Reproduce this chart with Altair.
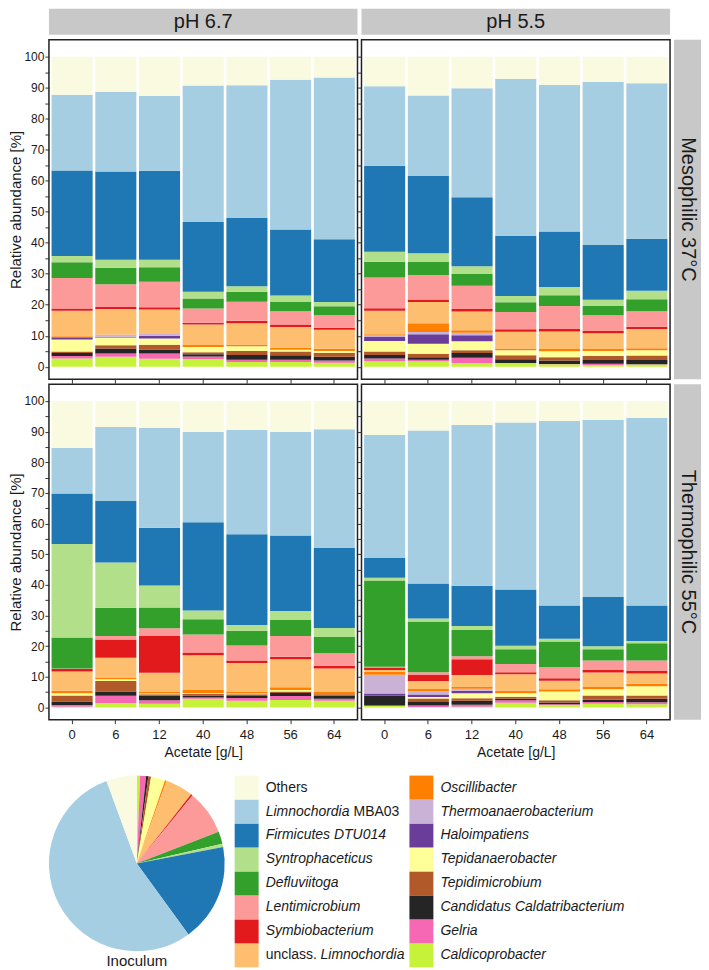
import altair as alt
import pandas as pd

FONT = "Liberation Sans, Arial, Helvetica, sans-serif"
TXT = "#1a1a1a"

# stacking order: bottom -> top
taxa = [
    "Caldicoprobacter", "Gelria", "Candidatus Caldatribacterium", "Tepidimicrobium",
    "Tepidanaerobacter", "Haloimpatiens", "Thermoanaerobacterium", "Oscillibacter",
    "unclass. Limnochordia", "Symbiobacterium", "Lentimicrobium", "Defluviitoga",
    "Syntrophaceticus", "Firmicutes DTU014", "Limnochordia MBA03", "Others",
]
colors = [
    "#c6f33a", "#f768b4", "#252525", "#b15928",
    "#ffff99", "#6a3d9a", "#cab2d6", "#ff7f00",
    "#fdbf6f", "#e31a1c", "#fb9a99", "#33a02c",
    "#b2df8a", "#1f78b4", "#a6cee3", "#fafae1",
]
acetate = ["0", "6", "12", "40", "48", "56", "64"]

# legend label parts: (first part, first italic?, second part)
label_a = ["Caldicoprobacter", "Gelria", "Candidatus Caldatribacterium", "Tepidimicrobium",
           "Tepidanaerobacter", "Haloimpatiens", "Thermoanaerobacterium", "Oscillibacter",
           "unclass.", "Symbiobacterium", "Lentimicrobium", "Defluviitoga",
           "Syntrophaceticus", "Firmicutes DTU014", "Limnochordia", "Others"]
label_a_italic = [True, True, True, True, True, True, True, True,
                  False, True, True, True, True, True, True, False]
label_b = ["", "", "", "", "", "", "", "", "Limnochordia", "", "", "", "", "", "MBA03", ""]

# Mesophilic 37°C, pH 6.7 (values per acetate level, %)
meso_67 = {
    "Caldicoprobacter": [2.7, 3.2, 2.6, 2.5, 1.5, 1.5, 1.3],
    "Gelria": [0.8, 1.1, 1.7, 0.8, 0.8, 0.8, 0.7],
    "Candidatus Caldatribacterium": [0.9, 1.6, 1.3, 0.7, 1.5, 1.4, 1.2],
    "Tepidimicrobium": [0.5, 1.0, 1.5, 0.7, 1.3, 1.2, 1.3],
    "Tepidanaerobacter": [3.9, 2.5, 2.0, 1.7, 1.5, 0.6, 0.6],
    "Haloimpatiens": [0.7, 0.3, 0.9, 0.0, 0.0, 0.0, 0.0],
    "Thermoanaerobacterium": [0.1, 0.6, 0.6, 0.0, 0.0, 0.0, 0.0],
    "Oscillibacter": [0.2, 0.1, 0.0, 0.6, 0.6, 0.6, 0.7],
    "unclass. Limnochordia": [8.3, 8.2, 7.9, 6.6, 6.8, 6.7, 6.1],
    "Symbiobacterium": [0.7, 0.7, 0.7, 0.6, 0.8, 0.8, 0.7],
    "Lentimicrobium": [9.8, 7.3, 8.2, 4.6, 6.2, 4.3, 4.0],
    "Defluviitoga": [5.1, 5.3, 4.7, 3.2, 3.2, 3.0, 2.9],
    "Syntrophaceticus": [2.0, 2.6, 2.4, 2.2, 1.8, 2.1, 1.4],
    "Firmicutes DTU014": [27.6, 28.5, 28.7, 22.5, 22.0, 21.3, 20.2],
    "Limnochordia MBA03": [24.4, 25.7, 24.1, 44.0, 42.8, 48.3, 52.2],
    "Others": [12.3, 11.3, 12.7, 9.3, 9.2, 7.4, 6.7],
}

# Mesophilic 37°C, pH 5.5
meso_55 = {
    "Caldicoprobacter": [1.8, 1.8, 1.2, 1.1, 0.8, 0.6, 0.7],
    "Gelria": [0.9, 0.5, 1.7, 0.1, 0.1, 0.4, 0.1],
    "Candidatus Caldatribacterium": [1.1, 0.8, 1.5, 1.2, 1.1, 1.2, 1.4],
    "Tepidimicrobium": [1.1, 1.1, 0.9, 1.3, 1.1, 1.3, 1.4],
    "Tepidanaerobacter": [3.4, 3.2, 2.9, 1.6, 1.9, 1.6, 1.7],
    "Haloimpatiens": [1.3, 3.1, 2.0, 0.0, 0.0, 0.0, 0.0],
    "Thermoanaerobacterium": [0.5, 0.7, 0.8, 0.0, 0.0, 0.0, 0.0],
    "Oscillibacter": [0.4, 2.8, 0.8, 0.6, 0.7, 0.8, 0.7],
    "unclass. Limnochordia": [7.6, 6.9, 6.0, 5.4, 5.7, 4.9, 6.2],
    "Symbiobacterium": [0.8, 0.8, 0.8, 0.8, 0.8, 0.7, 0.7],
    "Lentimicrobium": [9.9, 7.9, 7.5, 5.6, 7.4, 5.1, 5.0],
    "Defluviitoga": [5.1, 4.2, 3.8, 3.1, 3.5, 3.0, 3.9],
    "Syntrophaceticus": [3.2, 2.8, 2.5, 2.0, 2.6, 2.0, 2.7],
    "Firmicutes DTU014": [27.7, 24.9, 22.3, 19.4, 17.9, 17.7, 16.8],
    "Limnochordia MBA03": [25.7, 26.0, 35.1, 50.6, 47.3, 52.6, 50.1],
    "Others": [9.5, 12.5, 10.2, 7.2, 9.1, 8.1, 8.6],
}

# Thermophilic 55°C, pH 6.7
thermo_67 = {
    "Caldicoprobacter": [0.2, 1.4, 1.2, 2.8, 2.2, 2.4, 2.2],
    "Gelria": [0.6, 2.4, 1.1, 0.4, 0.9, 1.3, 0.6],
    "Candidatus Caldatribacterium": [1.1, 1.4, 1.6, 0.7, 0.6, 1.0, 1.1],
    "Tepidimicrobium": [2.0, 3.4, 0.4, 0.5, 0.6, 0.5, 0.4],
    "Tepidanaerobacter": [0.7, 0.6, 0.2, 0.2, 0.2, 0.5, 0.0],
    "Haloimpatiens": [0.0, 0.0, 0.0, 0.0, 0.0, 0.0, 0.0],
    "Thermoanaerobacterium": [0.0, 0.0, 0.0, 0.0, 0.0, 0.0, 0.0],
    "Oscillibacter": [0.8, 0.6, 0.7, 1.1, 0.7, 0.9, 0.9],
    "unclass. Limnochordia": [6.3, 6.4, 6.1, 11.3, 9.3, 9.1, 7.5],
    "Symbiobacterium": [0.8, 6.0, 12.0, 0.9, 0.8, 0.8, 0.9],
    "Lentimicrobium": [0.2, 1.1, 2.5, 5.9, 4.9, 6.8, 4.1],
    "Defluviitoga": [10.1, 9.2, 6.8, 5.0, 4.8, 5.2, 5.3],
    "Syntrophaceticus": [30.5, 14.8, 7.2, 2.8, 1.9, 3.0, 2.9],
    "Firmicutes DTU014": [16.5, 20.1, 18.8, 28.8, 29.6, 24.6, 26.1],
    "Limnochordia MBA03": [14.9, 24.1, 32.7, 29.5, 34.0, 33.8, 38.8],
    "Others": [15.3, 8.5, 8.7, 10.1, 9.5, 10.1, 9.2],
}

# Thermophilic 55°C, pH 5.5
thermo_55 = {
    "Caldicoprobacter": [0.5, 0.1, 0.2, 1.5, 0.8, 1.2, 1.0],
    "Gelria": [0.1, 0.5, 0.7, 0.8, 0.2, 0.6, 0.7],
    "Candidatus Caldatribacterium": [3.3, 1.2, 1.3, 0.5, 0.6, 0.7, 1.1],
    "Tepidimicrobium": [0.0, 1.1, 0.8, 0.7, 0.7, 1.4, 1.1],
    "Tepidanaerobacter": [0.0, 0.5, 1.6, 1.1, 2.9, 2.0, 3.0],
    "Haloimpatiens": [0.6, 0.8, 0.8, 0.0, 0.0, 0.0, 0.0],
    "Thermoanaerobacterium": [6.2, 1.1, 0.7, 0.0, 0.0, 0.0, 0.0],
    "Oscillibacter": [0.9, 0.7, 0.7, 0.8, 0.7, 0.8, 0.8],
    "unclass. Limnochordia": [0.6, 2.6, 3.8, 5.4, 2.8, 4.7, 3.4],
    "Symbiobacterium": [0.8, 2.0, 5.1, 0.7, 0.8, 0.8, 0.8],
    "Lentimicrobium": [0.3, 0.9, 1.0, 2.7, 3.6, 3.1, 3.4],
    "Defluviitoga": [28.1, 16.5, 8.6, 4.8, 8.4, 3.7, 5.6],
    "Syntrophaceticus": [0.9, 1.0, 1.3, 1.1, 0.9, 1.0, 0.8],
    "Firmicutes DTU014": [6.5, 11.4, 13.1, 18.4, 10.9, 16.0, 11.6],
    "Limnochordia MBA03": [40.1, 50.0, 52.5, 54.5, 60.2, 57.8, 61.2],
    "Others": [11.1, 9.6, 7.8, 7.0, 6.5, 6.2, 5.5],
}

# Inoculum (pie), same order as taxa
inoculum = [0.6, 1.1, 0.4, 0.5, 2.6, 0.0, 0.0, 0.3, 5.1, 0.3, 8.2, 2.3, 0.6, 18.0, 54.4, 5.6]

cscale = alt.Scale(domain=taxa, range=colors)
PW = 309


def panel_df(d):
    rows = []
    for i, t in enumerate(taxa):
        for j, a in enumerate(acetate):
            rows.append({"taxon": t, "order": i, "acetate": a, "value": d[t][j]})
    return pd.DataFrame(rows)


def panel(d, left, bottom, h):
    yax = alt.Axis(
        values=list(range(0, 101, 5)),
        labelExpr="datum.value % 10 == 0 ? datum.label : ''",
        labels=left,
        title="Relative abundance [%]" if left else None,
        tickSize=4, domain=False, grid=False, titlePadding=0, labelPadding=1,
        labelFontSize=12, titleFontSize=15,
    )
    xax = alt.Axis(
        labels=bottom, title="Acetate [g/L]" if bottom else None,
        labelAngle=0, tickSize=4, domain=False, grid=False, titlePadding=4,
        labelPadding=5,
    )
    return alt.Chart(panel_df(d)).mark_bar(strokeWidth=0).encode(
        x=alt.X("acetate:N", sort=acetate, axis=xax,
                scale=alt.Scale(paddingInner=0.06, paddingOuter=0.06)),
        y=alt.Y("value:Q", stack="zero", axis=yax,
                scale=alt.Scale(domain=[-4, 105.5], nice=False, zero=False)),
        color=alt.Color("taxon:N", scale=cscale, legend=None),
        order=alt.Order("order:Q", sort="ascending"),
    ).properties(
        width=PW, height=h,
        view=alt.ViewBackground(stroke="#222", strokeWidth=1.5, fill="white"),
    )


def strip(label, w, h, angle=0):
    return alt.Chart(alt.Data(values=[{"label": label}])).mark_text(
        font=FONT, fontSize=20, color=TXT, angle=angle
    ).encode(text="label:N").properties(
        width=w, height=h,
        view=alt.ViewBackground(fill="#c8c8c8", stroke=None),
    )


SW = 27
blank = alt.Chart(alt.Data(values=[{"a": 1}])).mark_point(opacity=0).properties(
    width=SW, height=24, view=alt.ViewBackground(stroke=None)
)

H1, H2 = 340, 336
grid = alt.concat(
    strip("pH 6.7", PW, 26), strip("pH 5.5", PW, 26), blank,
    panel(meso_67, True, False, H1), panel(meso_55, False, False, H1),
    strip("Mesophilic 37°C", SW, H1, 90),
    panel(thermo_67, True, True, H2), panel(thermo_55, False, True, H2),
    strip("Thermophilic 55°C", SW, H2, 90),
    columns=3, spacing={"row": 5, "column": 4}, bounds="flush",
)

# pie
pie_df = pd.DataFrame({"taxon": taxa, "order": list(range(len(taxa))), "value": inoculum})
pie = alt.Chart(pie_df).mark_arc(strokeWidth=0).encode(
    theta=alt.Theta("value:Q", stack=True),
    color=alt.Color("taxon:N", scale=cscale, legend=None),
    order=alt.Order("order:Q", sort="ascending"),
).properties(
    width=176, height=176, view=alt.ViewBackground(stroke=None),
    title=alt.TitleParams("Inoculum", orient="bottom", anchor="middle", fontSize=15,
                          fontWeight="normal", font=FONT, color=TXT, offset=3),
)

# custom legend (two columns, reversed stack order)
n = len(taxa)
leg_rows = []
for i, t in enumerate(taxa):
    k = n - 1 - i
    leg_rows.append({"taxon": t, "col": k // 8, "row": k % 8,
                     "a": label_a[i], "ai": label_a_italic[i], "b": label_b[i]})
leg_df = pd.DataFrame(leg_rows)

lx = alt.X("col:Q", scale=alt.Scale(domain=[0, 1], range=[19, 194]), axis=None)
ly = alt.Y("row:Q", scale=alt.Scale(domain=[0, 7], range=[12, 180]), axis=None)
base = alt.Chart(leg_df).encode(x=lx, y=ly)
squares = base.mark_square(size=576, opacity=1, strokeWidth=0).encode(
    color=alt.Color("taxon:N", scale=cscale, legend=None)
)
t_it = base.transform_filter("datum.ai").mark_text(
    align="left", dx=19, font=FONT, fontSize=14, fontStyle="italic", color=TXT
).encode(text="a:N")
t_no = base.transform_filter("!datum.ai").mark_text(
    align="left", dx=19, font=FONT, fontSize=14, color=TXT
).encode(text="a:N")
t_mba = base.transform_filter("datum.b == 'MBA03'").mark_text(
    align="left", dx=107, font=FONT, fontSize=14, color=TXT
).encode(text="b:N")
t_unc = base.transform_filter("datum.b == 'Limnochordia'").mark_text(
    align="left", dx=74, font=FONT, fontSize=14, fontStyle="italic", color=TXT
).encode(text="b:N")
legend = alt.layer(squares, t_it, t_no, t_mba, t_unc).properties(
    width=440, height=193, view=alt.ViewBackground(stroke=None)
)

bottom_row = alt.hconcat(pie, legend, spacing=3)

chart = alt.vconcat(grid, bottom_row, spacing=15).properties(
    padding=0
).configure_axis(
    labelFont=FONT, titleFont=FONT, labelFontSize=13, titleFontSize=14,
    titleFontWeight="normal", labelColor=TXT, titleColor=TXT,
    tickColor="#333", tickWidth=1, labelPadding=2,
).configure_text(font=FONT)

chart.save("out.html", embed_options={"renderer": "svg", "actions": False})
